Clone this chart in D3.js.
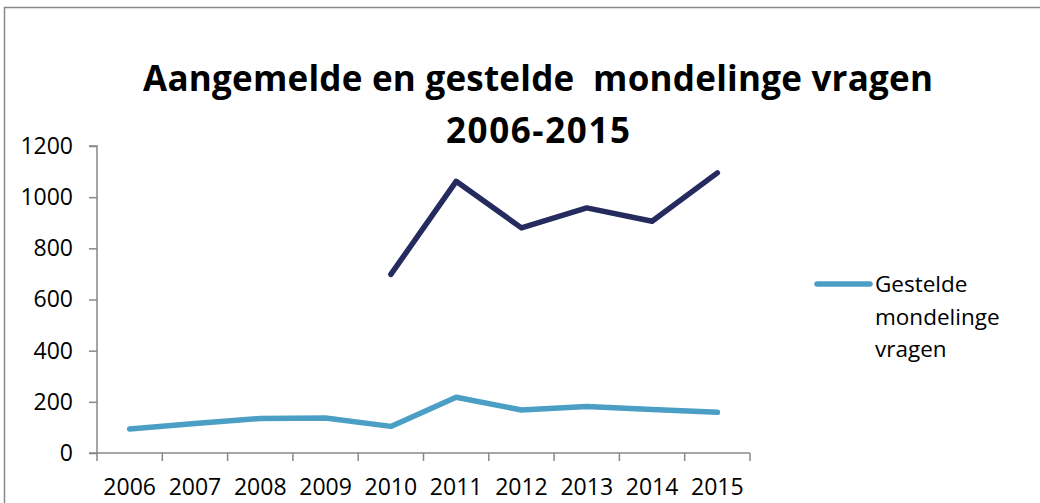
<!DOCTYPE html>
<html>
<head>
<meta charset="utf-8">
<script src="https://cdn.jsdelivr.net/npm/d3@7"></script>
<style>
  body { margin: 0; background: #fff; }
  svg { display: block; font-family: "Open Sans", sans-serif; }
</style>
</head>
<body>
<div id="chart"></div>
<script>
const years = ["2006", "2007", "2008", "2009", "2010", "2011", "2012", "2013", "2014", "2015"];
const aangemeld = [null, null, null, null, 698, 1062, 880, 958, 906, 1095];
const gesteld = [94, 115, 135, 137, 104, 218, 168, 182, 170, 159];
const yTicks = [0, 200, 400, 600, 800, 1000, 1200];
const titleLines = ["Aangemelde en gestelde  mondelinge vragen", "2006-2015"];
const titleWidths = [790, 184];
const legendLines = ["Gestelde", "mondelinge", "vragen"];

const W = 1040, H = 503;
const margin = { top: 146, left: 97 };
const width = 750 - margin.left;
const height = 453 - margin.top;

const svg = d3.select("#chart").append("svg")
  .attr("width", W)
  .attr("height", H);

// outer frame of the chart area (runs past the right/bottom edge)
svg.append("rect")
  .attr("x", 4.5).attr("y", 7.5)
  .attr("width", 1100).attr("height", 600)
  .attr("fill", "none")
  .attr("stroke", "#888")
  .attr("stroke-width", 1.5);

// title
svg.append("text")
  .attr("text-anchor", "middle")
  .attr("font-weight", "bold")
  .attr("font-size", "35px")
  .attr("fill", "#000")
  .style("white-space", "pre")
  .selectAll("tspan")
  .data(titleLines)
  .enter().append("tspan")
  .attr("x", 538)
  .attr("y", (d, i) => 91 + i * 52)
  .attr("textLength", (d, i) => titleWidths[i])
  .attr("lengthAdjust", "spacing")
  .text(d => d);

const g = svg.append("g")
  .attr("transform", `translate(${margin.left},${margin.top})`);

const x = d3.scaleBand().domain(years).range([0, width]);
const y = d3.scaleLinear().domain([0, 1200]).range([height, 0]);

// y axis
const yAxis = g.append("g")
  .call(d3.axisLeft(y).tickValues(yTicks).tickSize(8).tickPadding(16).tickFormat(d3.format("d")));
yAxis.select(".domain").attr("stroke", "#888").attr("stroke-width", 1.5).attr("d", `M0,${height}V0H-8`);
yAxis.selectAll(".tick line").attr("stroke", "#888").attr("stroke-width", 1.5);
yAxis.selectAll(".tick text").attr("font-size", "23px").attr("fill", "#000").attr("font-family", "Open Sans");

// x axis with ticks on band boundaries
const xAxis = g.append("g").attr("transform", `translate(0,${height})`);
xAxis.append("line")
  .attr("x1", -8).attr("x2", width)
  .attr("stroke", "#888").attr("stroke-width", 1.5);
xAxis.selectAll("line.tk")
  .data(years.concat(["end"]))
  .enter().append("line")
  .attr("class", "tk")
  .attr("x1", (d, i) => i < years.length ? x(d) : width)
  .attr("x2", (d, i) => i < years.length ? x(d) : width)
  .attr("y1", 0).attr("y2", 8)
  .attr("stroke", "#888").attr("stroke-width", 1.5);
xAxis.selectAll("text")
  .data(years)
  .enter().append("text")
  .attr("x", d => x(d) + x.bandwidth() / 2)
  .attr("y", 42)
  .attr("text-anchor", "middle")
  .attr("font-size", "23px")
  .attr("fill", "#000")
  .text(d => d);

const line = d3.line()
  .defined(d => d != null)
  .x((d, i) => x(years[i]) + x.bandwidth() / 2)
  .y(d => y(d));

g.append("path")
  .datum(gesteld)
  .attr("fill", "none")
  .attr("stroke", "#4B9FC4")
  .attr("stroke-width", 5.5)
  .attr("stroke-linejoin", "round")
  .attr("stroke-linecap", "round")
  .attr("d", line);

g.append("path")
  .datum(aangemeld)
  .attr("fill", "none")
  .attr("stroke", "#252B5E")
  .attr("stroke-width", 5.5)
  .attr("stroke-linejoin", "round")
  .attr("stroke-linecap", "round")
  .attr("d", line);

// legend
const leg = svg.append("g").attr("transform", "translate(817,284)");
leg.append("line")
  .attr("x1", 0).attr("x2", 53)
  .attr("stroke", "#4B9FC4").attr("stroke-width", 5.5)
  .attr("stroke-linecap", "round");
leg.append("text")
  .attr("font-size", "22.5px")
  .attr("fill", "#000")
  .selectAll("tspan")
  .data(legendLines)
  .enter().append("tspan")
  .attr("x", 58)
  .attr("y", (d, i) => 8 + i * 32.5)
  .text(d => d);
</script>
</body>
</html>
